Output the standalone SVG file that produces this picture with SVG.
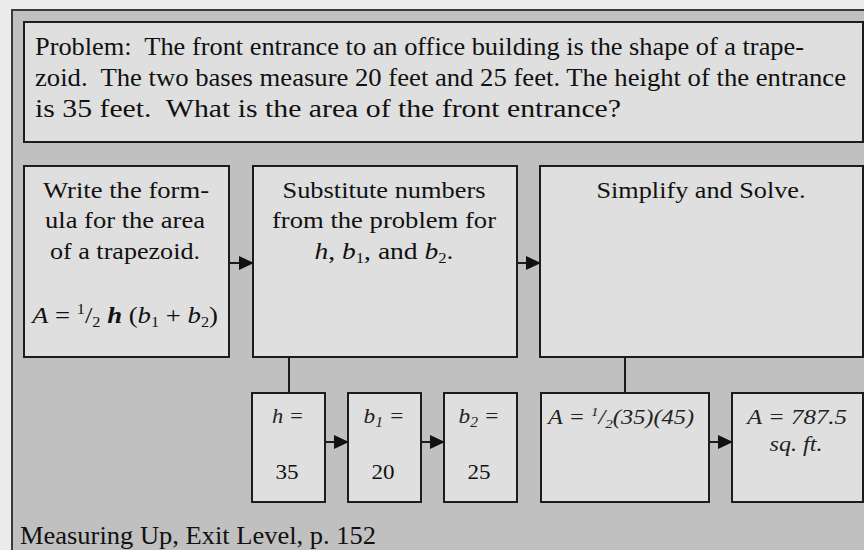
<svg xmlns="http://www.w3.org/2000/svg" width="864" height="550" viewBox="0 0 864 550">
<style>
.box{fill:#dfdfdf;stroke:#1c1c1c;stroke-width:2}
.t{font-family:"Liberation Serif","Times New Roman",serif;fill:#111;white-space:pre}
.m{font-family:"Liberation Serif","Times New Roman",serif;font-style:italic;fill:#222;white-space:pre}
.c{fill:none;stroke:#1c1c1c;stroke-width:2}
</style>
<defs>
<marker id="ah" markerWidth="15" markerHeight="14" refX="14" refY="7" orient="auto" markerUnits="userSpaceOnUse">
<path d="M0,0 L15,7 L0,14 Z" fill="#111"/>
</marker>
</defs>
<rect x="0" y="0" width="864" height="550" fill="#ececec"/>
<g id="frame">
<rect x="12" y="10" width="860" height="560" fill="#c0c0c0" stroke="#3a3a3a" stroke-width="2"/>
</g>
<g id="problem">
<rect class="box" x="24" y="22" width="839" height="120"/>
<text class="t" font-size="25" x="35" y="55" textLength="769" lengthAdjust="spacingAndGlyphs">Problem:  The front entrance to an office building is the shape of a trape-</text>
<text class="t" font-size="25" x="35" y="86" textLength="811" lengthAdjust="spacingAndGlyphs">zoid.  The two bases measure 20 feet and 25 feet. The height of the entrance</text>
<text class="t" font-size="25" x="35" y="117" textLength="586" lengthAdjust="spacingAndGlyphs">is 35 feet.  What is the area of the front entrance?</text>
</g>
<g id="step1">
<rect class="box" x="24" y="166" width="205" height="191"/>
<text class="t" font-size="23" text-anchor="middle" x="126" y="198" textLength="166" lengthAdjust="spacingAndGlyphs">Write the form-</text>
<text class="t" font-size="23" text-anchor="middle" x="125" y="228" textLength="160" lengthAdjust="spacingAndGlyphs">ula for the area</text>
<text class="t" font-size="23" text-anchor="middle" x="125" y="259" textLength="150" lengthAdjust="spacingAndGlyphs">of a trapezoid.</text>
<text class="t" font-size="23" text-anchor="middle" x="125" y="323" textLength="186" lengthAdjust="spacingAndGlyphs"><tspan font-style="italic">A</tspan> = <tspan font-size="14" dy="-9">1</tspan><tspan dy="9">/</tspan><tspan font-size="14" dy="4">2</tspan><tspan dy="-4" font-style="italic" font-weight="bold"> h</tspan> (<tspan font-style="italic">b</tspan><tspan font-size="14" dy="4">1</tspan><tspan dy="-4"> + </tspan><tspan font-style="italic">b</tspan><tspan font-size="14" dy="4">2</tspan><tspan dy="-4">)</tspan></text>
</g>
<g id="step2">
<rect class="box" x="253" y="166" width="264" height="191"/>
<text class="t" font-size="23" text-anchor="middle" x="384" y="198" textLength="203" lengthAdjust="spacingAndGlyphs">Substitute numbers</text>
<text class="t" font-size="23" text-anchor="middle" x="384" y="228" textLength="224" lengthAdjust="spacingAndGlyphs">from the problem for</text>
<text class="t" font-size="23" text-anchor="middle" x="384" y="259" textLength="139" lengthAdjust="spacingAndGlyphs"><tspan font-style="italic">h</tspan>, <tspan font-style="italic">b</tspan><tspan font-size="14" dy="4">1</tspan><tspan dy="-4">, and </tspan><tspan font-style="italic">b</tspan><tspan font-size="14" dy="4">2</tspan><tspan dy="-4">.</tspan></text>
</g>
<g id="step3">
<rect class="box" x="540" y="166" width="323" height="191"/>
<text class="t" font-size="23" text-anchor="middle" x="701" y="198" textLength="209" lengthAdjust="spacingAndGlyphs">Simplify and Solve.</text>
</g>
<g id="h">
<rect class="box" x="252" y="393" width="73" height="109"/>
<text class="m" font-size="21" text-anchor="middle" x="288" y="423" textLength="32" lengthAdjust="spacingAndGlyphs">h =</text>
<text class="t" font-size="21" text-anchor="middle" x="287" y="479" textLength="23" lengthAdjust="spacingAndGlyphs">35</text>
</g>
<g id="b1">
<rect class="box" x="348" y="393" width="73" height="109"/>
<text class="m" font-size="21" text-anchor="middle" x="384" y="423" textLength="41" lengthAdjust="spacingAndGlyphs">b<tspan font-size="14" dy="4">1</tspan><tspan dy="-4"> =</tspan></text>
<text class="t" font-size="21" text-anchor="middle" x="383" y="479" textLength="23" lengthAdjust="spacingAndGlyphs">20</text>
</g>
<g id="b2">
<rect class="box" x="444" y="393" width="73" height="109"/>
<text class="m" font-size="21" text-anchor="middle" x="479" y="423" textLength="41" lengthAdjust="spacingAndGlyphs">b<tspan font-size="14" dy="4">2</tspan><tspan dy="-4"> =</tspan></text>
<text class="t" font-size="21" text-anchor="middle" x="479" y="479" textLength="23" lengthAdjust="spacingAndGlyphs">25</text>
</g>
<g id="calc">
<rect class="box" x="541" y="393" width="168" height="109"/>
<text class="m" font-size="21" x="548" y="424" textLength="146" lengthAdjust="spacingAndGlyphs">A = <tspan font-size="13" dy="-8">1</tspan><tspan dy="8">/</tspan><tspan font-size="13" dy="4">2</tspan><tspan dy="-4">(35)(45)</tspan></text>
</g>
<g id="answer">
<rect class="box" x="732" y="393" width="131" height="109"/>
<text class="m" font-size="21" text-anchor="middle" x="797" y="424" textLength="100" lengthAdjust="spacingAndGlyphs">A = 787.5</text>
<text class="m" font-size="21" text-anchor="middle" x="796" y="451" textLength="53" lengthAdjust="spacingAndGlyphs">sq. ft.</text>
</g>
<g id="connectors">
<line class="c" x1="229" y1="263" x2="253" y2="263" marker-end="url(#ah)"/>
<line class="c" x1="517" y1="263" x2="540" y2="263" marker-end="url(#ah)"/>
<line class="c" x1="289" y1="357" x2="289" y2="393"/>
<line class="c" x1="625" y1="357" x2="625" y2="393"/>
<line class="c" x1="325" y1="442" x2="348" y2="442" marker-end="url(#ah)"/>
<line class="c" x1="421" y1="442" x2="444" y2="442" marker-end="url(#ah)"/>
<line class="c" x1="709" y1="442" x2="732" y2="442" marker-end="url(#ah)"/>
</g>
<text class="t" font-size="25" x="20" y="544" textLength="356" lengthAdjust="spacingAndGlyphs">Measuring Up, Exit Level, p. 152</text>
</svg>
